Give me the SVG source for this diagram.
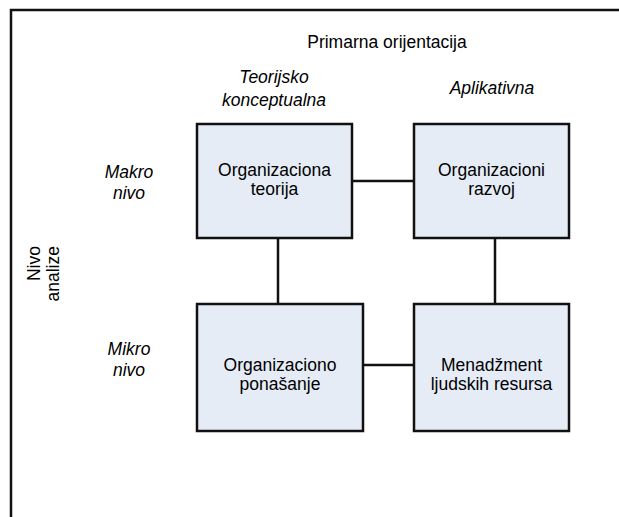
<svg xmlns="http://www.w3.org/2000/svg" width="619" height="517" viewBox="0 0 619 517">
<style>
text{font-family:"Liberation Sans",Arial,sans-serif;fill:#000}
.lbl{font-size:17.5px;text-anchor:middle}
.it{font-size:17.5px;font-style:italic;text-anchor:middle}
.rot{font-size:17.5px;text-anchor:end}
.box{fill:#E6ECF6;stroke:#111;stroke-width:2.5}
.con{stroke:#111;stroke-width:2.5;fill:none}
</style>
<rect x="0" y="0" width="619" height="517" fill="#fff"/>
<path d="M11,630 V10 H640" fill="none" stroke="#111" stroke-width="2.5"/>
<text class="lbl" x="387" y="48">Primarna orijentacija</text>
<text class="it" x="274" y="83">Teorijsko</text>
<text class="it" x="274" y="106">konceptualna</text>
<text class="it" x="492" y="94">Aplikativna</text>
<text class="it" x="129" y="178">Makro</text>
<text class="it" x="129" y="199">nivo</text>
<text class="it" x="129" y="355">Mikro</text>
<text class="it" x="129" y="376">nivo</text>
<g transform="translate(40,246) rotate(-90)">
<text class="rot" x="0" y="0">Nivo</text>
<text class="rot" x="0" y="19">analize</text>
</g>
<g id="connectors">
<line class="con" x1="352" y1="181" x2="414" y2="181"/>
<line class="con" x1="363" y1="365" x2="414" y2="365"/>
<line class="con" x1="278" y1="238" x2="278" y2="304"/>
<line class="con" x1="495" y1="238" x2="495" y2="304"/>
</g>
<g id="n1">
<rect class="box" x="197" y="124" width="155" height="114"/>
<text class="lbl" x="274.5" y="176">Organizaciona</text>
<text class="lbl" x="274.5" y="195">teorija</text>
</g>
<g id="n2">
<rect class="box" x="414" y="124" width="155" height="114"/>
<text class="lbl" x="491.5" y="176">Organizacioni</text>
<text class="lbl" x="491.5" y="195">razvoj</text>
</g>
<g id="n3">
<rect class="box" x="197" y="304" width="166" height="127"/>
<text class="lbl" x="280" y="371">Organizaciono</text>
<text class="lbl" x="280" y="390">ponašanje</text>
</g>
<g id="n4">
<rect class="box" x="414" y="304" width="155" height="127"/>
<text class="lbl" x="491.5" y="371">Menadžment</text>
<text class="lbl" x="491.5" y="390">ljudskih resursa</text>
</g>
</svg>
